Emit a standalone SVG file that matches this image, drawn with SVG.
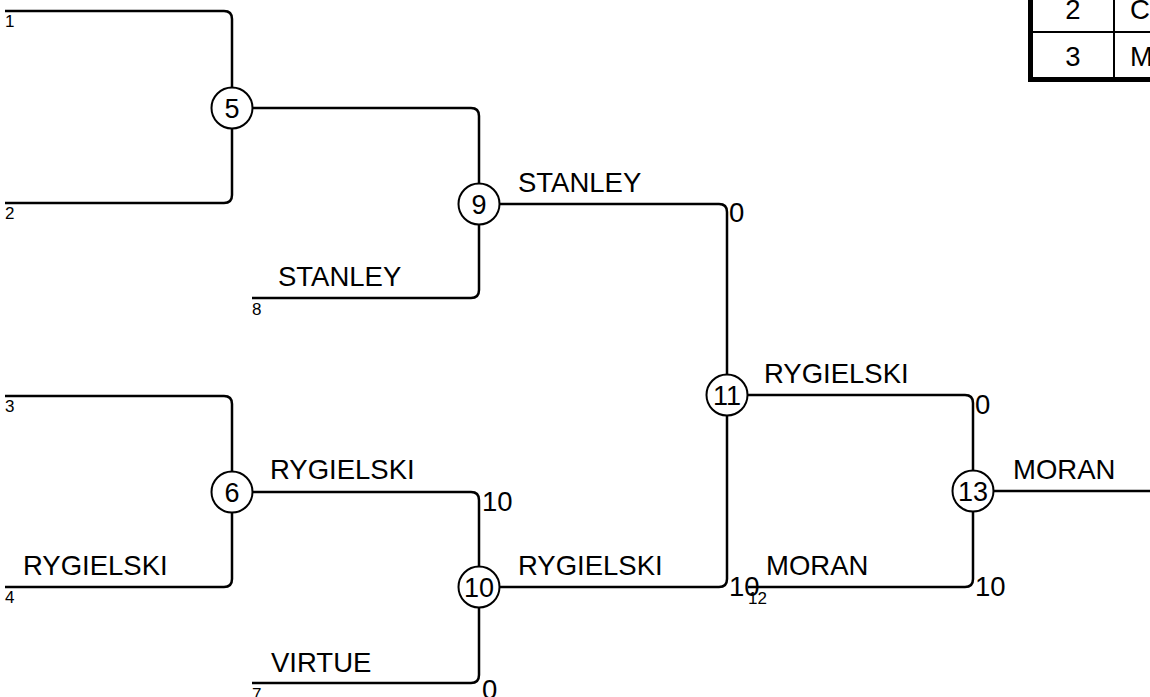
<svg xmlns="http://www.w3.org/2000/svg" width="1150" height="697" viewBox="0 0 1150 697">
<style>
.c{fill:none;stroke:#000;stroke-width:2.5}
.n circle{fill:#fff;stroke:#000;stroke-width:2}
.n text{font-family:"Liberation Sans",Arial,sans-serif;font-size:27px;text-anchor:middle;fill:#000}
.lb{font-family:"Liberation Sans",Arial,sans-serif;font-size:27.5px;fill:#000}
.sm{font-family:"Liberation Sans",Arial,sans-serif;font-size:17px;fill:#000}
.tb{fill:#fff;stroke:#000}
</style>
<rect width="1150" height="697" fill="#fff"/>
<g id="table">
<rect class="tb" x="1030.5" y="-20" width="140" height="99.5" stroke-width="5"/>
<line x1="1030" y1="32" x2="1150" y2="32" stroke="#000" stroke-width="2"/>
<line x1="1114" y1="-20" x2="1114" y2="79" stroke="#000" stroke-width="2"/>
<text class="lb" x="1073" y="19" text-anchor="middle">2</text>
<text class="lb" x="1073" y="66" text-anchor="middle">3</text>
<text class="lb" x="1130" y="19">C</text>
<text class="lb" x="1130" y="66">M</text>
</g>
<g id="connectors">
<path class="c" d="M5,11 H224 Q232,11 232,19 V88"/>
<path class="c" d="M5,203 H224 Q232,203 232,195 V128"/>
<path class="c" d="M252,108 H471 Q479,108 479,116 V184"/>
<path class="c" d="M252,298 H471 Q479,298 479,290 V224"/>
<path class="c" d="M499,204 H719 Q727,204 727,212 V375"/>
<path class="c" d="M5,396 H224 Q232,396 232,404 V472"/>
<path class="c" d="M5,587 H224 Q232,587 232,579 V512"/>
<path class="c" d="M252,492 H471 Q479,492 479,500 V567"/>
<path class="c" d="M252,683 H471 Q479,683 479,675 V607"/>
<path class="c" d="M499,587 H719 Q727,587 727,579 V415"/>
<path class="c" d="M747,395 H965 Q973,395 973,403 V471"/>
<path class="c" d="M748,587 H965 Q973,587 973,579 V511"/>
<path class="c" d="M993,491 H1150"/>
</g>
<g id="slots">
<text class="sm" x="5" y="27">1</text>
<text class="sm" x="5" y="219">2</text>
<text class="sm" x="5" y="412">3</text>
<text class="sm" x="5" y="603">4</text>
<text class="sm" x="252" y="315">8</text>
<text class="sm" x="252" y="700">7</text>
<text class="sm" x="748" y="604">12</text>
</g>
<g id="labels">
<text class="lb" x="518" y="192">STANLEY</text>
<text class="lb" x="278" y="286">STANLEY</text>
<text class="lb" x="270" y="479">RYGIELSKI</text>
<text class="lb" x="23" y="575">RYGIELSKI</text>
<text class="lb" x="518" y="575">RYGIELSKI</text>
<text class="lb" x="271" y="672">VIRTUE</text>
<text class="lb" x="764" y="383">RYGIELSKI</text>
<text class="lb" x="766" y="575">MORAN</text>
<text class="lb" x="1013" y="479">MORAN</text>
</g>
<g id="scores">
<text class="lb" x="729" y="222">0</text>
<text class="lb" x="482" y="511">10</text>
<text class="lb" x="482" y="699">0</text>
<text class="lb" x="729" y="596">10</text>
<text class="lb" x="975" y="414">0</text>
<text class="lb" x="975" y="596">10</text>
</g>
<g id="node5" class="n"><circle cx="232" cy="108" r="20.5"/><text x="232" y="117.5">5</text></g>
<g id="node9" class="n"><circle cx="479" cy="204" r="20.5"/><text x="479" y="213.5">9</text></g>
<g id="node6" class="n"><circle cx="232" cy="492" r="20.5"/><text x="232" y="501.5">6</text></g>
<g id="node10" class="n"><circle cx="479" cy="587" r="20.5"/><text x="479" y="596.5">10</text></g>
<g id="node11" class="n"><circle cx="727" cy="395" r="20.5"/><text x="727" y="404.5">11</text></g>
<g id="node13" class="n"><circle cx="973" cy="491" r="20.5"/><text x="973" y="500.5">13</text></g>
</svg>
